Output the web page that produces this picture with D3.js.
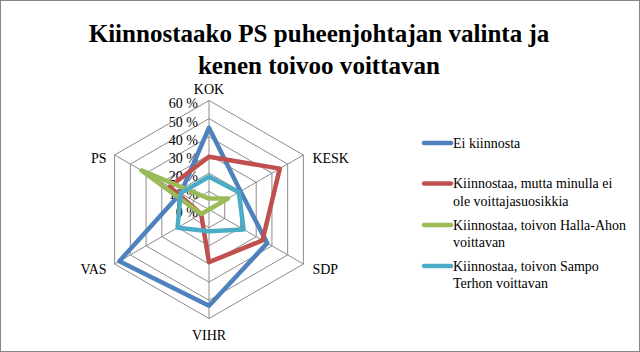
<!DOCTYPE html>
<html>
<head>
    <meta charset="utf-8">
    <title>Kiinnostaako PS puheenjohtajan valinta</title>
    <style>
        body{ margin:0; background:#fff; }
        text{ font-family:"Liberation Serif", serif; fill:#000; }
    </style>
</head>
<body>
    <svg width="640" height="352"></svg>
    <script src="https://d3js.org/d3.v7.min.js"></script>
    <script>
        // data (percent)
        const categories = ['KOK', 'KESK', 'SDP', 'VIHR', 'VAS', 'PS'];
        const eiKiinnosta = [45, 20, 37, 53, 57, 18];
        const eiSuosikkia = [29, 45, 34, 29, 5, 25];
        const hallaAho = [6, 12, 0, 0, 5, 43];
        const sampoTerho = [18, 19, 22, 12, 20, 18];
        const seriesNames = [
            ['Ei kiinnosta'],
            ['Kiinnostaa, mutta minulla ei', 'ole voittajasuosikkia'],
            ['Kiinnostaa, toivon Halla-Ahon', 'voittavan'],
            ['Kiinnostaa, toivon Sampo', 'Terhon voittavan']
        ];
        const tickValues = [0, 10, 20, 30, 40, 50, 60];
        const colors = ['#4F81BD', '#C0504D', '#9BBB59', '#4BACC6'];

        const svg = d3.select('svg');
        const width = +svg.attr('width');
        const height = +svg.attr('height');
        const cx = 209, cy = 209.5, radius = 109;

        svg.append('rect')
            .attr('x', 0.5).attr('y', 0.5)
            .attr('width', width - 1).attr('height', height - 1)
            .attr('fill', '#fff').attr('stroke', '#868686');

        // title, sized to the reference width
        const title = svg.append('text')
            .attr('x', 319).attr('text-anchor', 'middle')
            .style('font-weight', 'bold').style('font-size', '26px');
        title.append('tspan').attr('x', 319).attr('y', 42).text('Kiinnostaako PS puheenjohtajan valinta ja');
        title.append('tspan').attr('x', 319).attr('y', 74).text('kenen toivoo voittavan');
        const w = title.select('tspan').node().getComputedTextLength();
        title.style('font-size', (26 * 461 / w) + 'px');

        const r = d3.scaleLinear().domain([0, 60]).range([0, radius]);
        const angle = d3.scaleLinear().domain([0, categories.length]).range([0, 2 * Math.PI]);
        const ang = c => angle(categories.indexOf(c));
        const px = (c, v) => cx + r(v) * Math.sin(ang(c));
        const py = (c, v) => cy - r(v) * Math.cos(ang(c));

        const g = svg.append('g');

        // grid rings
        tickValues.slice(1).forEach(t => {
            g.append('path')
                .attr('d', d3.line()(categories.map(c => [px(c, t), py(c, t)])) + 'Z')
                .attr('fill', 'none').attr('stroke', '#8c8c8c').attr('stroke-width', 1);
        });
        // spokes
        g.selectAll('line.spoke').data(categories).enter().append('line')
            .attr('x1', cx).attr('y1', cy)
            .attr('x2', d => px(d, 60)).attr('y2', d => py(d, 60))
            .attr('stroke', '#8c8c8c').attr('stroke-width', 1);

        // value labels
        g.selectAll('text.tick').data(tickValues).enter().append('text')
            .attr('x', cx - 11).attr('y', d => cy - r(d) + 3)
            .attr('dy', '0.35em').attr('text-anchor', 'end')
            .style('font-size', '14px')
            .text(d => d + ' %');

        // category labels
        const labelPos = {
            KOK: [0, -7, 'middle'], KESK: [9, 3, 'start'], SDP: [9, 5, 'start'],
            VIHR: [0, 17, 'middle'], VAS: [-8, 5, 'end'], PS: [-8, 3, 'end']
        };
        g.selectAll('text.cat').data(categories).enter().append('text')
            .attr('x', d => px(d, 60) + labelPos[d][0])
            .attr('y', d => py(d, 60) + labelPos[d][1])
            .attr('dy', d => d === 'KOK' ? '0' : '0.35em')
            .attr('text-anchor', d => labelPos[d][2])
            .style('font-size', '14px')
            .text(d => d);

        // series
        const series = [eiKiinnosta, eiSuosikkia, hallaAho, sampoTerho];
        const radial = d3.lineRadial()
            .angle((d, i) => angle(i))
            .radius(d => r(d))
            .curve(d3.curveLinearClosed);
        series.forEach((s, i) => {
            g.append('path')
                .attr('transform', `translate(${cx},${cy})`)
                .attr('d', radial(s))
                .attr('fill', 'none')
                .attr('stroke', colors[i])
                .attr('stroke-width', 4.5)
                .attr('stroke-linejoin', 'round');
        });

        // legend
        const legendY = [143, 183.5, 225, 266];
        const lg = svg.append('g');
        seriesNames.forEach((lines, i) => {
            lg.append('line')
                .attr('x1', 424).attr('x2', 451)
                .attr('y1', legendY[i]).attr('y2', legendY[i])
                .attr('stroke', colors[i]).attr('stroke-width', 4.5)
                .attr('stroke-linecap', 'round');
            const t = lg.append('text').style('font-size', '14px');
            lines.forEach((l, j) => {
                t.append('tspan').attr('x', 453).attr('y', legendY[i] + 4.5 + j * 17.5).text(l);
            });
        });
    </script>
</body>
</html>
